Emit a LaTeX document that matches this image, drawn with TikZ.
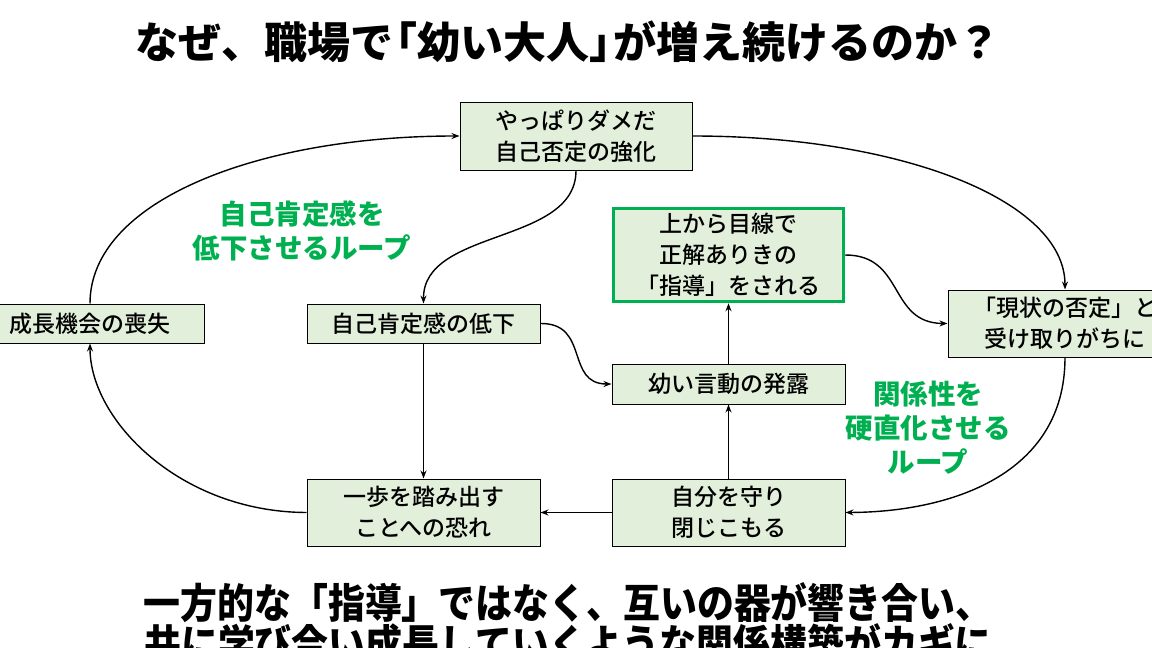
\documentclass[tikz,border=0pt]{standalone}
\usepackage{fontspec}
\usetikzlibrary{arrows.meta}
\newfontfamily\jp{Noto Sans CJK JP}
\newfontfamily\jpm{Noto Sans CJK JP Medium}
\newfontfamily\jpc[FakeStretch=0.9]{Noto Sans CJK JP}
\definecolor{boxfill}{HTML}{E2EFDA}
\definecolor{loopgreen}{HTML}{00B050}
\tikzset{
  box/.style={draw=black, line width=1pt, fill=boxfill, align=center, inner sep=0pt,
    font=\jpm\fontsize{23}{31}\selectfont, text=black},
  hibox/.style={box, draw=loopgreen, line width=3.5pt},
  conn/.style={line width=1.4pt, -{Stealth[length=8pt,width=6pt]}},
  looptxt/.style={align=center, text=loopgreen, font=\jp\bfseries\fontsize{27.5}{34}\selectfont},
}
\begin{document}
\begin{tikzpicture}[x=1pt,y=-1pt]
\useasboundingbox (0,0) rectangle (1152,648);
\fill[white] (0,0) rectangle (1152,648);

\node[font=\jp\bfseries\fontsize{43}{48}\selectfont] (title) at (568,42) {なぜ、職場で\kern-.45em「幼い大人」\kern-.45emが増え続けるのか？};

\node[box, minimum width=232pt, minimum height=68pt] (top) at (576,136) {やっぱりダメだ\\自己否定の強化};
\node[box, minimum width=228pt, minimum height=39pt] (loss) at (90,323.5) {成長機会の喪失};
\node[box, minimum width=233pt, minimum height=39pt] (low) at (423.5,323.5) {自己肯定感の低下};
\node[hibox, minimum width=230pt, minimum height=93pt] (upper) at (728.5,255) {上から目線で\\正解ありきの\\「指導」をされる};
\node[box, minimum width=234pt, minimum height=67pt] (deny) at (1065,323.5) {「現状の否定」と\\受け取りがちに};
\node[box, minimum width=233pt, minimum height=40pt] (child) at (728.5,384) {幼い言動の発露};
\node[box, minimum width=233pt, minimum height=67pt] (fear) at (423.5,512.5) {一歩を踏み出す\\ことへの恐れ};
\node[box, minimum width=233pt, minimum height=67pt] (shut) at (728.5,512.5) {自分を守り\\閉じこもる};

\node[looptxt] (loopA) at (302,231) {自己肯定感を\\低下させるループ};
\node[looptxt] (loopB) at (928,428) {関係性を\\硬直化させる\\ループ};

\draw[conn] (loss.north) .. controls (90,200) and (260,136) .. (top.west);
\draw[conn] (top.east) .. controls (900,136) and (1065,200) .. (deny.north);
\draw[conn] (deny.south) .. controls (1065,475) and (950,512) .. (shut.east);
\draw[conn] (shut.west) -- (fear.east);
\draw[conn] (fear.west) .. controls (180,512) and (90,420) .. (loss.south);
\draw[conn] (top.south) .. controls (576,245) and (423,228) .. (low.north);
\draw[conn] (low.east) .. controls (590,323) and (565,384) .. (child.west);
\draw[conn] (low.south) -- (fear.north);
\draw[conn] (shut.north) -- (child.south);
\draw[conn] (child.north) -- (upper.south);
\draw[conn] (upper.east) .. controls (905,255) and (888,323) .. (deny.west);

\node[font=\jpc\bfseries\fontsize{41}{37}\selectfont, align=center, anchor=north] (msg) at (568,579) {一方的な「指導」ではなく、互いの器が響き合い、\\共に学び合い成長していくような関係構築がカギに};
\end{tikzpicture}
\end{document}
